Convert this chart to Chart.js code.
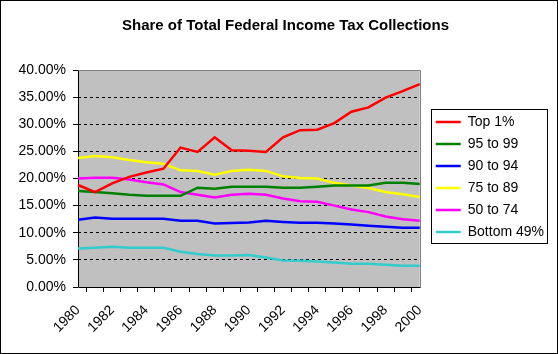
<!DOCTYPE html>
<html>
<head>
<meta charset="utf-8">
<script src="https://cdn.jsdelivr.net/npm/chart.js@4/dist/chart.umd.min.js"></script>
<style>
  html, body { margin: 0; padding: 0; background: #fff; }
  #wrap { width: 558px; height: 354px; position: relative; }
</style>
</head>
<body>
<div id="wrap"><canvas id="grafico"></canvas></div>
<script>
// valores (porcentaje del total)
const years = ["1980", "1981", "1982", "1983", "1984", "1985", "1986", "1987", "1988", "1989", "1990",
  "1991", "1992", "1993", "1994", "1995", "1996", "1997", "1998", "1999", "2000"];
const top1 = [18.8, 17.5, 19.1, 20.3, 21.1, 21.8, 25.7, 24.9, 27.6, 25.2, 25.1, 24.9, 27.6, 28.9, 29.0, 30.2, 32.3, 33.1, 34.9, 36.1, 37.4];
const p95to99 = [17.7, 17.5, 17.3, 17.0, 16.8, 16.8, 16.8, 18.3, 18.1, 18.5, 18.5, 18.5, 18.3, 18.3, 18.5, 18.7, 18.7, 18.7, 19.2, 19.2, 19.0];
const p90to94 = [12.4, 12.8, 12.6, 12.6, 12.6, 12.6, 12.2, 12.2, 11.7, 11.8, 11.9, 12.2, 12.0, 11.85, 11.85, 11.7, 11.5, 11.3, 11.1, 10.9, 10.9];
const p75to89 = [23.8, 24.15, 23.9, 23.4, 23.0, 22.7, 21.5, 21.4, 20.7, 21.4, 21.6, 21.4, 20.4, 20.1, 20.0, 19.2, 18.7, 18.25, 17.5, 17.1, 16.6];
const p50to74 = [20.0, 20.15, 20.15, 19.8, 19.3, 18.9, 17.5, 17.0, 16.5, 17.0, 17.2, 17.0, 16.3, 15.8, 15.7, 15.0, 14.3, 13.8, 13.0, 12.5, 12.2];
const bottom49 = [7.1, 7.25, 7.4, 7.25, 7.25, 7.25, 6.5, 6.1, 5.8, 5.8, 5.9, 5.45, 4.9, 4.85, 4.7, 4.5, 4.3, 4.3, 4.1, 3.9, 3.9];
const yTicks = { min: 0, max: 40, step: 5 };

const fuente = "'Liberation Sans', Arial, sans-serif";

function serie(label, data, color) {
  return {
    label: label,
    data: data,
    borderColor: color,
    backgroundColor: color,
    borderWidth: 2.5,
    pointRadius: 0,
    pointHoverRadius: 0,
    tension: 0,
    fill: false,
  };
}

// fondo gris, ejes y marcos estilo Excel
const decorado = {
  id: "decorado",
  beforeDraw(chart) {
    const { ctx, chartArea: a } = chart;
    ctx.save();
    ctx.fillStyle = "#fff";
    ctx.fillRect(0, 0, chart.width, chart.height);
    ctx.fillStyle = "#c0c0c0";
    ctx.fillRect(a.left, a.top, a.right - a.left, a.bottom - a.top);
    ctx.restore();
  },
  beforeDatasetsDraw(chart) {
    const { ctx, chartArea: a } = chart;
    const l = Math.round(a.left) + 0.5, t = Math.round(a.top) + 0.5;
    const r = Math.round(a.right) + 0.5, b = Math.round(a.bottom) + 0.5;
    ctx.save();
    ctx.lineWidth = 1;
    ctx.strokeStyle = "#808080";
    ctx.beginPath();
    ctx.moveTo(l, t);
    ctx.lineTo(r, t);
    ctx.lineTo(r, b);
    ctx.stroke();
    ctx.strokeStyle = "#000";
    ctx.beginPath();
    ctx.moveTo(l, t);
    ctx.lineTo(l, b);
    ctx.lineTo(r, b);
    ctx.stroke();
    ctx.restore();
  },
  afterDraw(chart) {
    const ctx = chart.ctx;
    const cajas = chart.legend.legendHitBoxes;
    ctx.save();
    ctx.lineWidth = 1;
    ctx.strokeStyle = "#000";
    if (cajas && cajas.length) {
      let l = Infinity, t = Infinity, r = -Infinity, b = -Infinity;
      cajas.forEach((c) => {
        l = Math.min(l, c.left);
        t = Math.min(t, c.top);
        r = Math.max(r, c.left + c.width);
        b = Math.max(b, c.top + c.height);
      });
      ctx.strokeRect(Math.round(l - 5) + 0.5, Math.round(t - 6) + 0.5, Math.round(r - l + 8), Math.round(b - t + 10));
    }
    ctx.strokeRect(0.5, 0.5, chart.width - 1, chart.height - 1);
    ctx.restore();
  },
};

new Chart(document.getElementById("grafico").getContext("2d"), {
  type: "line",
  data: {
    labels: years,
    datasets: [
      serie("Top 1%", top1, "#ff0000"),
      serie("95 to 99", p95to99, "#008000"),
      serie("90 to 94", p90to94, "#0000ff"),
      serie("75 to 89", p75to89, "#ffff00"),
      serie("50 to 74", p50to74, "#ff00ff"),
      serie("Bottom 49%", bottom49, "#33cccc"),
    ],
  },
  options: {
    responsive: true,
    maintainAspectRatio: false,
    animation: false,
    layout: { padding: { left: 17, right: 4, top: 0, bottom: 0 } },
    plugins: {
      title: {
        display: true,
        text: "Share of Total Federal Income Tax Collections",
        color: "#000",
        font: { family: fuente, size: 15, weight: "bold" },
        padding: { top: 17, bottom: 35 },
      },
      legend: {
        position: "right",
        maxWidth: 300,
        labels: {
          usePointStyle: true,
          pointStyle: "line",
          pointStyleWidth: 25,
          boxHeight: 14,
          padding: 8,
          color: "#000",
          font: { family: fuente, size: 14 },
        },
      },
      tooltip: { enabled: false },
    },
    scales: {
      x: {
        afterFit: (s) => { s.height = 67; },
        ticks: {
          autoSkip: false,
          minRotation: 45,
          maxRotation: 45,
          padding: 10,
          color: "#000",
          font: { family: fuente, size: 14 },
          callback: function (v, i) {
            return i % 2 === 0 ? this.getLabelForValue(v) : "";
          },
        },
        grid: { offset: true, drawOnChartArea: false, drawTicks: true, tickLength: 5, tickColor: "#000" },
        border: { display: false },
      },
      y: {
        min: yTicks.min,
        max: yTicks.max,
        afterFit: (s) => { s.width = 61; },
        ticks: {
          stepSize: yTicks.step,
          padding: 7,
          color: "#000",
          font: { family: fuente, size: 14 },
          callback: (v) => v.toFixed(2) + "%",
        },
        grid: {
          color: (c) => (c.tick && (c.tick.value === yTicks.min || c.tick.value === yTicks.max)) ? "rgba(0,0,0,0)" : "#000",
          lineWidth: 1,
          tickLength: 5,
          tickColor: "#000",
          tickBorderDash: [],
        },
        border: { display: false, dash: [3, 3] },
      },
      y2: {
        position: "right",
        display: true,
        afterFit: (s) => { s.width = 8; },
        ticks: { display: false },
        grid: { display: false },
        border: { display: false },
      },
    },
  },
  plugins: [decorado],
});
</script>
</body>
</html>
